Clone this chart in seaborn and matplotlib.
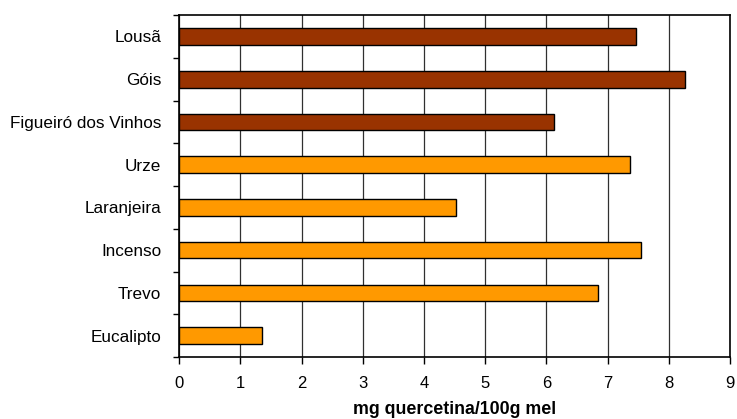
import matplotlib
matplotlib.use("Agg")
import matplotlib.pyplot as plt
import seaborn as sns
import numpy as np

# data
categories = ["Lousã", "Góis", "Figueiró dos Vinhos", "Urze",
              "Laranjeira", "Incenso", "Trevo", "Eucalipto"]
values = [7.47, 8.26, 6.13, 7.36, 4.52, 7.54, 6.85, 1.35]
bar_colors = ["#993300", "#993300", "#993300", "#FF9900",
              "#FF9900", "#FF9900", "#FF9900", "#FF9900"]
x_ticks = list(range(0, 10))

sns.set_style("white")
plt.rcParams["font.family"] = ["Liberation Sans", "DejaVu Sans"]
plt.rcParams["text.color"] = "black"
plt.rcParams["axes.labelcolor"] = "black"
plt.rcParams["xtick.color"] = "black"
plt.rcParams["ytick.color"] = "black"

fig = plt.figure(figsize=(7.37, 4.19), dpi=100)
ax = fig.add_axes([0.243, 0.148, 0.7476, 0.816])

sns.barplot(
    x=values,
    y=categories,
    hue=categories,
    palette=bar_colors,
    saturation=1,
    legend=False,
    orient="h",
    width=0.39,
    edgecolor="black",
    linewidth=1,
    ax=ax,
)

ax.set_xlim(0, 9)
ax.set_ylim(len(categories) - 0.5, -0.5)
ax.set_xticks(x_ticks)
ax.grid(axis="x", color="#303030", linewidth=0.9)
ax.set_axisbelow(True)

# category ticks sit between the bars
ax.set_yticks(np.arange(-0.5, len(categories)), minor=True)
ax.tick_params(axis="y", which="major", left=False, length=0, pad=13, labelsize=12.3)
ax.tick_params(axis="y", which="minor", left=True, length=4, width=1,
               direction="out", color="black")
ax.tick_params(axis="x", which="major", bottom=True, length=5, width=1,
               direction="out", color="black", pad=9, labelsize=12)

for side in ["left", "bottom", "top", "right"]:
    ax.spines[side].set_visible(True)
    ax.spines[side].set_color("black")
    ax.spines[side].set_linewidth(1.2)

ax.set_xlabel("mg quercetina/100g mel", fontsize=12.8, fontweight="bold", labelpad=7)
ax.set_ylabel("")

fig.savefig("out.png", dpi=100)
